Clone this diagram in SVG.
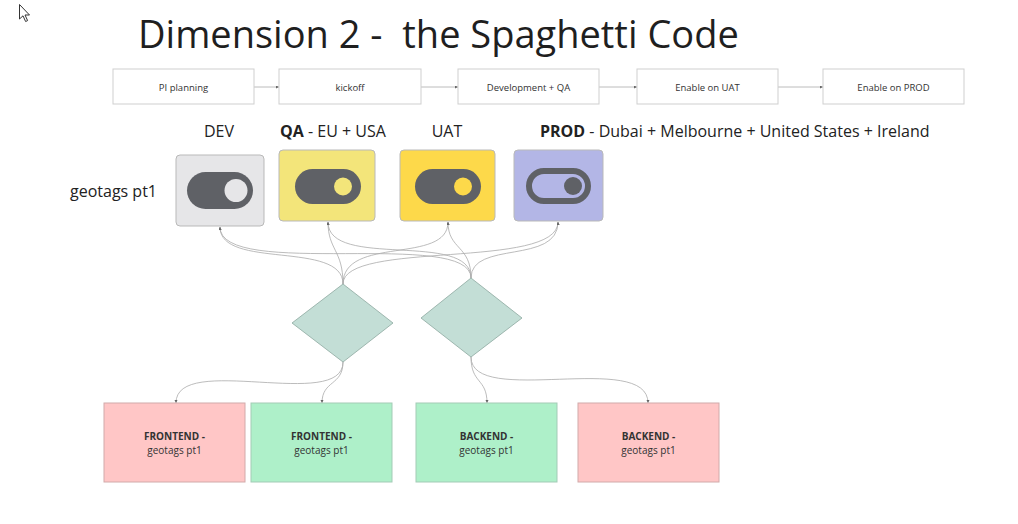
<svg xmlns="http://www.w3.org/2000/svg" width="1018" height="524" viewBox="0 0 1018 524">
<style>
text{font-family:"Open Sans","Noto Sans","Liberation Sans",sans-serif;}
.title{font-size:38px;fill:#1f1f1f;}
.step rect{fill:#fff;stroke:#cfcfcf;stroke-width:1;}
.step text{font-size:9.5px;fill:#333;text-anchor:middle;}
.lbl{font-size:16px;fill:#222;}
.card{stroke:#b9b9b9;stroke-width:1;}
.pill{fill:#5f6166;}
.dia{fill:#c3ded6;stroke:#8da8a0;stroke-width:0.8;}
.box text{font-size:10px;fill:#333;text-anchor:middle;}
.box .b{font-weight:bold;}
.red{fill:#ffc6c6;stroke:#d2aaaa;stroke-width:1;}
.green{fill:#aef0c9;stroke:#a3cbb6;stroke-width:1;}
.conn path,.conn line{fill:none;stroke:#ababab;stroke-width:0.8;}
</style>
<defs>
<marker id="ah" markerWidth="4" markerHeight="4" refX="3" refY="1.5" orient="auto" markerUnits="userSpaceOnUse">
<path d="M0,0 L3,1.5 L0,3 z" fill="#666"/>
</marker>
</defs>
<rect width="1018" height="524" fill="#fff"/>
<!-- cursor -->
<path d="M19.5,4.5 L19.5,19 L23,15.8 L25.6,21.5 L27.6,20.6 L25,15 L29.5,15 Z" fill="#fff" stroke="#333" stroke-width="1" stroke-linejoin="round"/>

<text class="title" x="138" y="48" xml:space="preserve">Dimension 2 -  the Spaghetti Code</text>

<g class="conn">
<line x1="254" y1="87" x2="279" y2="87" marker-end="url(#ah)"/>
<line x1="421" y1="87" x2="458" y2="87" marker-end="url(#ah)"/>
<line x1="599" y1="87" x2="637" y2="87" marker-end="url(#ah)"/>
<line x1="778" y1="87" x2="823" y2="87" marker-end="url(#ah)"/>
<!-- diamond tops to cards -->
<path d="M343,284 C343,240 220,270 220,227" marker-end="url(#ah)"/>
<path d="M471,278 C471,228 220,280 220,227" marker-end="url(#ah)"/>
<path d="M343,284 C343,250 328,250 328,222" marker-end="url(#ah)"/>
<path d="M471,278 C471,230 328,270 328,222" marker-end="url(#ah)"/>
<path d="M343,284 C343,235 448,265 448,222" marker-end="url(#ah)"/>
<path d="M471,278 C471,245 448,250 448,222" marker-end="url(#ah)"/>
<path d="M343,284 C343,240 558,270 558,222" marker-end="url(#ah)"/>
<path d="M471,278 C471,240 558,265 558,222" marker-end="url(#ah)"/>
<!-- diamond bottoms to boxes -->
<path d="M343,362 C343,412 176,352 176,403" marker-end="url(#ah)"/>
<path d="M343,362 C343,386 322,380 322,403" marker-end="url(#ah)"/>
<path d="M471,357 C471,384 487,378 487,403" marker-end="url(#ah)"/>
<path d="M471,357 C471,408 648,350 648,403" marker-end="url(#ah)"/>
</g>

<g id="step-pi" class="step"><rect x="113" y="69" width="141" height="35"/><text x="183.5" y="91">PI planning</text></g>
<g id="step-kickoff" class="step"><rect x="279" y="69" width="142" height="35"/><text x="350" y="91">kickoff</text></g>
<g id="step-dev" class="step"><rect x="458" y="69" width="141" height="35"/><text x="528.5" y="91">Development + QA</text></g>
<g id="step-uat" class="step"><rect x="637" y="69" width="141" height="35"/><text x="707.5" y="91">Enable on UAT</text></g>
<g id="step-prod" class="step"><rect x="823" y="69" width="141" height="35"/><text x="893.5" y="91">Enable on PROD</text></g>

<text class="lbl" x="219" y="137" text-anchor="middle">DEV</text>
<text class="lbl" x="280" y="137"><tspan font-weight="bold">QA</tspan> - EU + USA</text>
<text class="lbl" x="447" y="137" text-anchor="middle">UAT</text>
<text class="lbl" x="540" y="137"><tspan font-weight="bold">PROD</tspan> - Dubai + Melbourne + United States + Ireland</text>
<text class="lbl" x="70" y="197">geotags pt1</text>

<g id="card-dev">
<rect class="card" x="176" y="155" width="88" height="71" rx="4" fill="#e6e6e8"/>
<rect class="pill" x="187" y="172" width="66" height="37" rx="18.5"/>
<circle cx="236" cy="190.5" r="11.5" fill="#e6e6e8"/>
</g>
<g id="card-qa">
<rect class="card" x="279" y="150" width="96" height="71" rx="4" fill="#f3e57a" stroke="#d9c960"/>
<rect class="pill" x="295" y="169" width="66" height="35" rx="17.5"/>
<circle cx="343" cy="186.5" r="9" fill="#f3e57a"/>
</g>
<g id="card-uat">
<rect class="card" x="400" y="150" width="95" height="71" rx="4" fill="#fdd94a" stroke="#e0bd35"/>
<rect class="pill" x="415" y="169" width="66" height="35" rx="17.5"/>
<circle cx="463" cy="186.5" r="9" fill="#fdd94a"/>
</g>
<g id="card-prod">
<rect class="card" x="514" y="150" width="89" height="71" rx="4" fill="#b3b6e6" stroke="#9a9dcc"/>
<rect x="529" y="171" width="59" height="30" rx="15" fill="none" stroke="#5f6166" stroke-width="6"/>
<circle cx="573" cy="186" r="9" fill="#5f6166"/>
</g>

<g id="decision-1"><polygon class="dia" points="343,284 393,323 343,362 292,323"/></g>
<g id="decision-2"><polygon class="dia" points="471,278 522,318 471,357 421,318"/></g>

<g id="fe-red" class="box"><rect class="red" x="104" y="403" width="141" height="79"/><text class="b" x="174.5" y="440">FRONTEND -</text><text x="174.5" y="454">geotags pt1</text></g>
<g id="fe-green" class="box"><rect class="green" x="251" y="403" width="141" height="79"/><text class="b" x="321.5" y="440">FRONTEND -</text><text x="321.5" y="454">geotags pt1</text></g>
<g id="be-green" class="box"><rect class="green" x="416" y="403" width="141" height="79"/><text class="b" x="486.5" y="440">BACKEND -</text><text x="486.5" y="454">geotags pt1</text></g>
<g id="be-red" class="box"><rect class="red" x="578" y="403" width="141" height="79"/><text class="b" x="648.5" y="440">BACKEND -</text><text x="648.5" y="454">geotags pt1</text></g>
</svg>
